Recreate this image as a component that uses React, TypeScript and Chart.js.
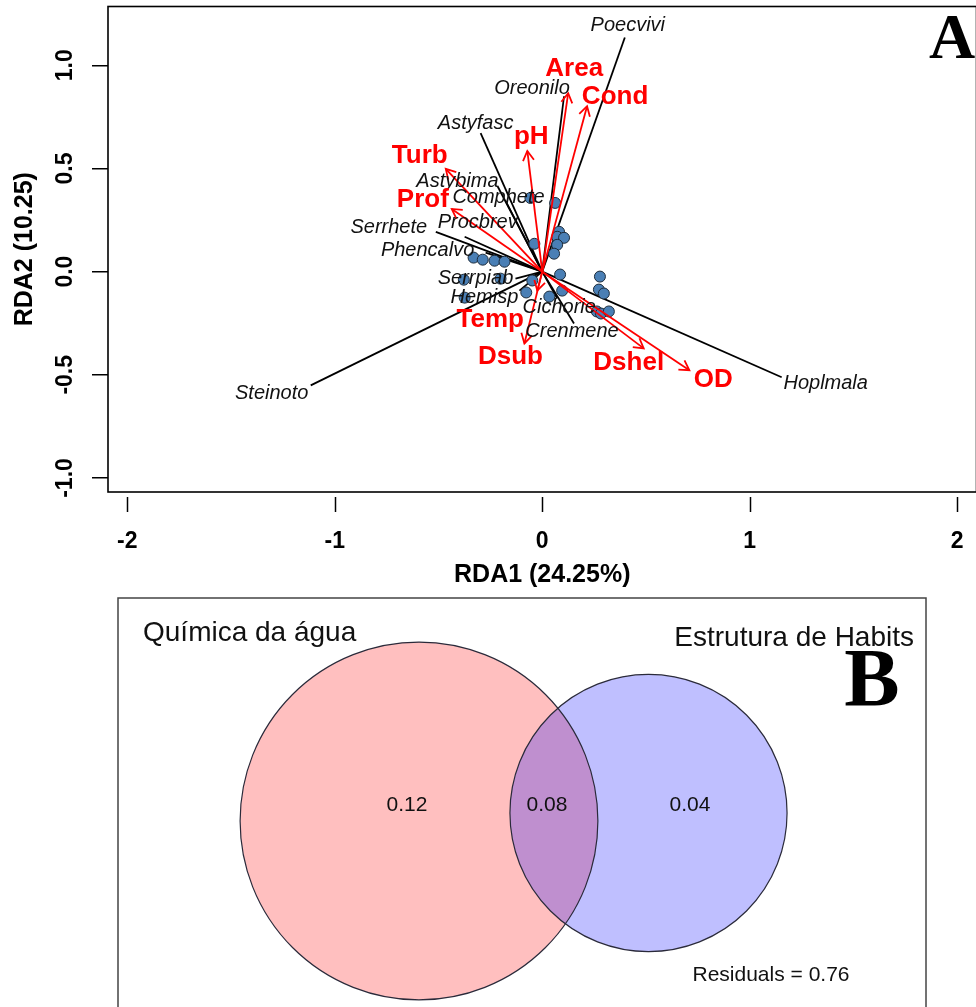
import { useEffect, useRef } from 'react';
import { Chart, registerables } from 'chart.js';
Chart.register(...registerables);

// ---------------- DATA ----------------
const xTicks = [-2, -1, 0, 1, 2];
const xTickLabels = ['-2', '-1', '0', '1', '2'];
const yTicks = [-1, -0.5, 0, 0.5, 1];
const yTickLabels = ['-1.0', '-0.5', '0.0', '0.5', '1.0'];
const xTitle = 'RDA1 (24.25%)';
const yTitle = 'RDA2 (10.25)';

const speciesNames = ['Poecvivi', 'Oreonilo', 'Astyfasc', 'Astybima', 'Comphete', 'Procbrev', 'Serrhete', 'Phencalvo', 'Serrpiab', 'Hemisp', 'Steinoto', 'Cichorie', 'Crenmene', 'Hoplmala'];
const speciesX = [0.398, 0.105, -0.297, -0.216, -0.177, -0.374, -0.513, -0.273, -0.129, -0.110, -1.116, 0.072, 0.153, 1.154];
const speciesY = [1.135, 0.850, 0.671, 0.415, 0.343, 0.169, 0.193, 0.092, -0.034, -0.092, -0.551, -0.130, -0.251, -0.512];

const envNames = ['Area', 'Cond', 'pH', 'Turb', 'Prof', 'Temp', 'Dsub', 'Dshel', 'OD'];
const envX = [0.125, 0.216, -0.072, -0.465, -0.436, -0.024, -0.086, 0.489, 0.709];
const envY = [0.865, 0.802, 0.585, 0.498, 0.304, -0.092, -0.348, -0.372, -0.478];

const siteX = [-0.057, 0.062, 0.081, 0.072, 0.105, 0.072, -0.038, 0.057, -0.331, -0.287, -0.230, -0.182, 0.086, 0.096, -0.378, -0.374, -0.201, -0.048, -0.077, 0.034, 0.278, 0.273, 0.297, 0.263, 0.283, 0.321];
const siteY = [0.357, 0.333, 0.193, 0.169, 0.164, 0.130, 0.135, 0.087, 0.068, 0.058, 0.053, 0.048, -0.014, -0.092, -0.039, -0.126, -0.034, -0.043, -0.101, -0.121, -0.024, -0.087, -0.106, -0.193, -0.203, -0.193];

const vennSetNames = ['Química da água', 'Estrutura de Habits'];
const vennFractions = [0.12, 0.08, 0.04]; // only set 1, shared, only set 2
const vennResidual = 0.76;

// ---------------- LAYOUT / STYLE ----------------
const SANS = '"Liberation Sans", Arial, Helvetica, sans-serif';
const SERIF = '"Liberation Serif", "Times New Roman", serif';

// label nudges in px relative to the end of each vector
const speciesNudge: Record<string, [number, number]> = {
  Poecvivi: [3, -12], Oreonilo: [-32, -8], Astyfasc: [-5, -10], Astybima: [-40, -5],
  Comphete: [-7, -3], Procbrev: [13, -14], Serrhete: [-47, -4], Phencalvo: [-58, -2],
  Serrpiab: [-40, 0], Hemisp: [-35, 7], Steinoto: [-39, 8], Cichorie: [2, 9],
  Crenmene: [-2, 8], Hoplmala: [44, 6],
};
const envNudge: Record<string, [number, number]> = {
  Area: [6, -24], Cond: [28, -9], pH: [4, -14], Turb: [-26, -13], Prof: [-29, -9],
  Temp: [-47, 29], Dsub: [-14, 13], Dshel: [-15, 14], OD: [24, 10],
};

// venn layout (chart units, 1 unit = 100 px)
const vennCenters = [[3.01, 1.99], [5.305, 2.07]];
const vennScale = 4.0;
const vennLabelX = [2.89, 4.29, 5.72];
const vennLabelY = 2.15;
const vennFill = ['rgba(255,0,0,0.25)', 'rgba(0,0,255,0.25)'];

const rdaPlugin = {
  id: 'rdaDecor',
  afterDatasetsDraw(chart: any) {
    const { ctx, scales } = chart;
    const xs = scales.x, ys = scales.y;
    const x0 = xs.getPixelForValue(0), y0 = ys.getPixelForValue(0);
    ctx.save();
    // arrow heads
    ctx.strokeStyle = '#ff0000';
    ctx.lineWidth = 1.8;
    envNames.forEach((_, i) => {
      const x1 = xs.getPixelForValue(envX[i]);
      const y1 = ys.getPixelForValue(envY[i]);
      const ang = Math.atan2(y1 - y0, x1 - x0);
      const L = 11, a = Math.PI / 6;
      ctx.beginPath();
      ctx.moveTo(x1 - L * Math.cos(ang - a), y1 - L * Math.sin(ang - a));
      ctx.lineTo(x1, y1);
      ctx.lineTo(x1 - L * Math.cos(ang + a), y1 - L * Math.sin(ang + a));
      ctx.stroke();
    });
    // species labels
    ctx.textAlign = 'center';
    ctx.textBaseline = 'middle';
    ctx.font = `italic 20px ${SANS}`;
    ctx.fillStyle = '#111';
    speciesNames.forEach((n, i) => {
      const [dx, dy] = speciesNudge[n] || [0, 0];
      ctx.fillText(n, xs.getPixelForValue(speciesX[i]) + dx, ys.getPixelForValue(speciesY[i]) + dy);
    });
    // env labels
    ctx.font = `bold 26px ${SANS}`;
    ctx.fillStyle = '#ff0000';
    envNames.forEach((n, i) => {
      const [dx, dy] = envNudge[n] || [0, 0];
      ctx.fillText(n, xs.getPixelForValue(envX[i]) + dx, ys.getPixelForValue(envY[i]) + dy);
    });
    ctx.restore();
  },
  afterDraw(chart: any) {
    const { ctx, chartArea: ca, scales } = chart;
    ctx.save();
    // box
    ctx.strokeStyle = '#000';
    ctx.lineWidth = 1.6;
    ctx.strokeRect(ca.left, ca.top, ca.right - ca.left, ca.bottom - ca.top);
    // x tick marks (detached from box, as in R)
    ctx.lineWidth = 1.5;
    scales.x.ticks.forEach((t: any) => {
      const px = Math.round(scales.x.getPixelForValue(t.value)) + 0.5;
      ctx.beginPath();
      ctx.moveTo(px, ca.bottom + 5);
      ctx.lineTo(px, ca.bottom + 20);
      ctx.stroke();
    });
    // y tick labels (rotated)
    ctx.fillStyle = '#000';
    ctx.font = `bold 23px ${SANS}`;
    ctx.textAlign = 'center';
    ctx.textBaseline = 'middle';
    scales.y.ticks.forEach((t: any) => {
      const idx = yTicks.indexOf(t.value);
      if (idx < 0) return;
      ctx.save();
      ctx.translate(66, scales.y.getPixelForValue(t.value));
      ctx.rotate(-Math.PI / 2);
      ctx.fillText(yTickLabels[idx], 0, 0);
      ctx.restore();
    });
    // panel letter
    ctx.font = `bold 64px ${SERIF}`;
    ctx.textAlign = 'left';
    ctx.textBaseline = 'alphabetic';
    ctx.fillText('A', 929, 58);
    ctx.restore();
  },
};

const vennPlugin = {
  id: 'vennDecor',
  beforeDatasetsDraw(chart: any) {
    const { ctx, scales } = chart;
    const xs = scales.x, ys = scales.y;
    const radii = [
      vennScale * Math.sqrt(vennFractions[0] + vennFractions[1]),
      vennScale * Math.sqrt(vennFractions[1] + vennFractions[2]),
    ];
    ctx.save();
    const circ = (i: number) => {
      const cx = xs.getPixelForValue(vennCenters[i][0]);
      const cy = ys.getPixelForValue(vennCenters[i][1]);
      const r = xs.getPixelForValue(radii[i]) - xs.getPixelForValue(0);
      ctx.beginPath();
      ctx.arc(cx, cy, r, 0, Math.PI * 2);
    };
    [0, 1].forEach((i) => {
      circ(i);
      ctx.fillStyle = vennFill[i];
      ctx.fill();
    });
    ctx.strokeStyle = '#2a2a3a';
    ctx.lineWidth = 1.2;
    [0, 1].forEach((i) => {
      circ(i);
      ctx.stroke();
    });
    ctx.restore();
  },
  afterDraw(chart: any) {
    const { ctx, chartArea: ca, scales } = chart;
    const xs = scales.x, ys = scales.y;
    ctx.save();
    ctx.strokeStyle = '#444';
    ctx.lineWidth = 1.5;
    ctx.strokeRect(ca.left, ca.top, ca.right - ca.left, ca.bottom - ca.top);
    ctx.fillStyle = '#111';
    ctx.textBaseline = 'middle';
    ctx.font = `28px ${SANS}`;
    ctx.textAlign = 'left';
    ctx.fillText(vennSetNames[0], xs.getPixelForValue(0.25), ys.getPixelForValue(3.87));
    ctx.textAlign = 'right';
    ctx.fillText(vennSetNames[1], xs.getPixelForValue(7.96), ys.getPixelForValue(3.82));
    ctx.textAlign = 'center';
    ctx.font = `21px ${SANS}`;
    vennFractions.forEach((v, i) => {
      ctx.fillText(v.toFixed(2), xs.getPixelForValue(vennLabelX[i]), ys.getPixelForValue(vennLabelY));
    });
    ctx.fillText(`Residuals = ${vennResidual.toFixed(2)}`, xs.getPixelForValue(6.53), ys.getPixelForValue(0.45));
    ctx.font = `bold 83px ${SERIF}`;
    ctx.fillStyle = '#000';
    ctx.textBaseline = 'alphabetic';
    ctx.fillText('B', xs.getPixelForValue(7.54), ys.getPixelForValue(3.15));
    ctx.restore();
  },
};

export default function App() {
  const refA = useRef<HTMLCanvasElement>(null);
  const refB = useRef<HTMLCanvasElement>(null);

  useEffect(() => {
    const speciesSets = speciesNames.map((n, i) => ({
      label: n,
      data: [{ x: 0, y: 0 }, { x: speciesX[i], y: speciesY[i] }],
      showLine: true,
      borderColor: '#000',
      borderWidth: 1.8,
      pointRadius: 0,
      order: 3,
    }));
    const envSets = envNames.map((n, i) => ({
      label: n,
      data: [{ x: 0, y: 0 }, { x: envX[i], y: envY[i] }],
      showLine: true,
      borderColor: '#ff0000',
      borderWidth: 1.8,
      pointRadius: 0,
      order: 1,
    }));
    const sites = {
      label: 'sites',
      data: siteX.map((x, i) => ({ x, y: siteY[i] })),
      showLine: false,
      pointRadius: 5.5,
      backgroundColor: '#4a7fb5',
      borderColor: '#1c2b3a',
      borderWidth: 1,
      order: 2,
    };

    const chartA = new Chart(refA.current!, {
      type: 'scatter',
      data: { datasets: [...speciesSets, sites, ...envSets] as any },
      options: {
        animation: false,
        responsive: false,
        devicePixelRatio: 1,
        events: [],
        layout: { padding: { left: 0, top: 5, right: 18, bottom: 0 } },
        plugins: { legend: { display: false }, tooltip: { enabled: false } },
        scales: {
          x: {
            type: 'linear',
            min: -2.093,
            max: 2.093,
            afterBuildTicks: (s: any) => { s.ticks = xTicks.map((v) => ({ value: v })); },
            afterFit: (s: any) => { s.height = 106; },
            grid: { display: false, drawTicks: false },
            border: { display: false },
            ticks: {
              autoSkip: false,
              maxRotation: 0,
              padding: 36,
              color: '#000',
              font: { family: SANS, size: 23, weight: 'bold' },
              callback: (v: any) => xTickLabels[xTicks.indexOf(Number(v))] ?? '',
            },
            title: {
              display: true,
              text: xTitle,
              color: '#000',
              font: { family: SANS, size: 25, weight: 'bold' },
              padding: { top: 0, bottom: 8 },
            },
          },
          y: {
            type: 'linear',
            min: -1.068,
            max: 1.285,
            afterBuildTicks: (s: any) => { s.ticks = yTicks.map((v) => ({ value: v })); },
            afterFit: (s: any) => { s.width = 108; },
            grid: { display: true, drawOnChartArea: false, drawTicks: true, tickLength: 16, color: '#000', lineWidth: 1.5 },
            border: { display: false },
            ticks: { display: false },
            title: {
              display: true,
              text: yTitle,
              color: '#000',
              font: { family: SANS, size: 25, weight: 'bold' },
              padding: { top: 10, bottom: 0 },
            },
          },
        },
      } as any,
      plugins: [rdaPlugin],
    });

    const chartB = new Chart(refB.current!, {
      type: 'scatter',
      data: {
        datasets: [
          {
            label: 'centres',
            data: vennCenters.map(([x, y]) => ({ x, y })),
            pointRadius: 0,
            showLine: false,
          },
        ] as any,
      },
      options: {
        animation: false,
        responsive: false,
        devicePixelRatio: 1,
        events: [],
        layout: { padding: { left: 118, top: 8, right: 50, bottom: 0 } },
        plugins: { legend: { display: false }, tooltip: { enabled: false } },
        scales: {
          x: { type: 'linear', display: false, min: 0, max: 8.08 },
          y: { type: 'linear', display: false, min: 0, max: 4.22 },
        },
      } as any,
      plugins: [vennPlugin],
    });

    return () => {
      chartA.destroy();
      chartB.destroy();
    };
  }, []);

  return (
    <div style={{ position: 'fixed', left: 0, top: 0, width: 976, height: 1007, overflow: 'hidden', background: '#fff' }}>
      <canvas ref={refA} width={1000} height={598} style={{ position: 'absolute', left: 0, top: 0 }} />
      <canvas ref={refB} width={976} height={430} style={{ position: 'absolute', left: 0, top: 590 }} />
    </div>
  );
}
